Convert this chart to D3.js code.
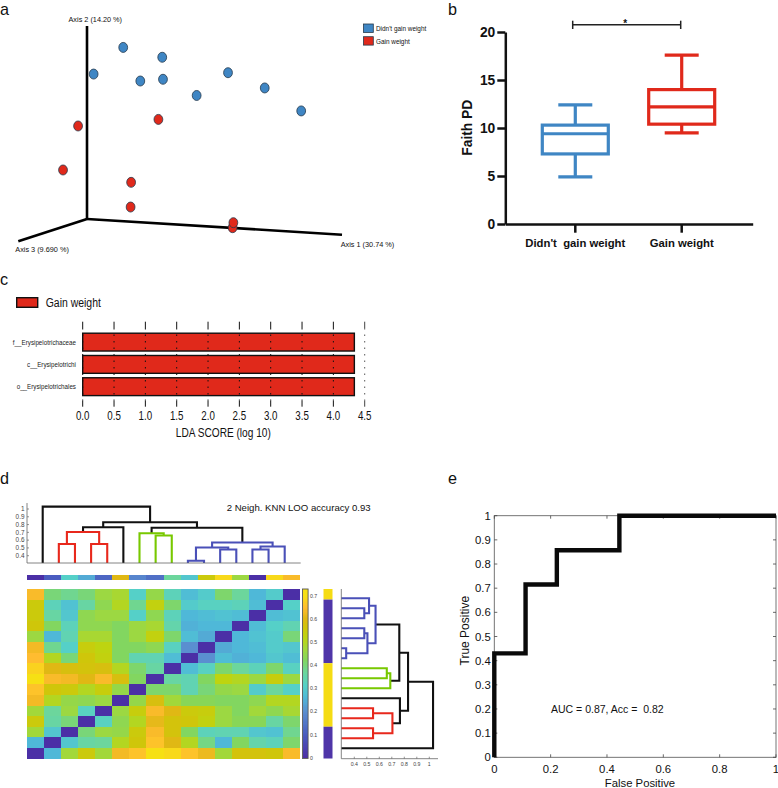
<!DOCTYPE html>
<html><head><meta charset="utf-8">
<script src="https://cdn.jsdelivr.net/npm/d3@7"></script>
<style>
html,body{margin:0;padding:0;background:#fff}
svg{display:block}
text{font-family:"Liberation Sans",Arial,sans-serif}
</style></head><body>
<svg id="c" width="778" height="788"></svg>
<script>
// ---------- data ----------
const groups = ["Didn't gain weight", "Gain weight"];
const pcoaBlueAxis1 = [.142,.295,.026,.209,.298,.553,.697,.430,.840];
const pcoaBlueAxis2 = [.889,.838,.751,.715,.724,.758,.679,.640,.560];
const pcoaRedAxis1 = [.280,-.035,-.094,.173,.171,.571,.574];
const pcoaRedAxis2 = [.516,.482,.254,.190,.062,-.045,-.019];
const boxCategories = ["Didn't  gain weight", "Gain weight"];
const boxLow = [4.9, 9.5];
const boxQ1 = [7.3, 10.4];
const boxMedian = [9.4, 12.2];
const boxQ3 = [10.3, 14.0];
const boxHigh = [12.4, 17.6];
const boxTicks = [0,5,10,15,20];
const ldaTaxa = ["f__Erysipelotrichaceae","c__Erysipelotrichi","o__Erysipelotrichales"];
const ldaScores = [4.335,4.335,4.335];
const ldaTicks = [0,.5,1,1.5,2,2.5,3,3.5,4,4.5];
const rocFalsePositive = [0,0,.111,.111,.222,.222,.444,.444,1];
const rocTruePositive = [0,.43,.43,.715,.715,.857,.857,1,1];
const rocXTicks = [0,.2,.4,.6,.8,1];
const rocYTicks = [0,.1,.2,.3,.4,.5,.6,.7,.8,.9,1];
const distanceMatrix = [
[.64,.40,.38,.40,.46,.48,.31,.45,.33,.27,.30,.41,.37,.26,.30,0],
[.55,.33,.28,.36,.44,.50,.38,.53,.41,.30,.32,.32,.33,.27,0,.31],
[.55,.36,.29,.44,.46,.46,.31,.44,.33,.26,.27,.28,.27,0,.27,.28],
[.56,.42,.33,.44,.44,.42,.46,.48,.35,.25,.26,.26,0,.27,.31,.34],
[.46,.26,.34,.48,.48,.42,.46,.53,.41,.27,.24,0,.26,.28,.30,.40],
[.63,.38,.31,.54,.52,.42,.42,.44,.32,.20,0,.24,.26,.27,.30,.29],
[.65,.50,.40,.56,.53,.42,.34,.34,.27,0,.20,.27,.25,.26,.29,.27],
[.68,.60,.58,.57,.58,.50,.41,.36,0,.27,.32,.41,.37,.33,.41,.32],
[.70,.64,.63,.60,.64,.58,.42,0,.36,.34,.42,.52,.50,.46,.54,.46],
[.66,.56,.55,.50,.54,.45,0,.41,.41,.34,.40,.45,.46,.30,.37,.31],
[.63,.50,.45,.44,.46,0,.45,.58,.47,.43,.43,.42,.42,.44,.50,.50],
[.47,.37,.46,.32,0,.46,.54,.64,.60,.55,.54,.46,.42,.47,.44,.48],
[.55,.36,.40,0,.32,.44,.50,.61,.57,.56,.53,.46,.43,.43,.36,.41],
[.47,.29,0,.40,.46,.45,.55,.64,.57,.42,.33,.34,.34,.29,.28,.38],
[.26,0,.29,.36,.37,.50,.56,.66,.60,.50,.39,.26,.42,.35,.33,.41],
[0,.26,.47,.55,.47,.63,.66,.70,.69,.66,.62,.47,.57,.57,.56,.64]];
const columnStrip = [0,.1,.31,.24,.12,.6,.18,.14,.37,.29,.55,.69,.46,0,.69,.64];
const classCounts = [1,6,6,3];
const classKinds = [1,0,1,0];
const colorStops = [0,.1,.2,.26,.31,.37,.42,.47,.52,.56,.6,.65,.7];
const colorValues = ["#4b2fa6","#4a5cc0","#5a8fd0","#4fb8d8","#55d0c8","#6cd69c","#82d660","#a2d83a","#bed410","#cfc60a","#e0b814","#ffbc30","#f6e014"];
const colorbarTicks = [0,.1,.2,.3,.4,.5,.6,.7];
const dendroYTicks = [.4,.5,.6,.7,.8,.9,1];
const dendroXTicks = [.4,.5,.6,.7,.8,.9,1];
// merge heights of the clustering, leaves numbered left to right
const clusterTree = {h:1.03,c:"k",kids:[{leaf:0},
  {h:.83,c:"k",kids:[
    {h:.765,c:"k",kids:[
      {h:.705,c:"r",kids:[{h:.55,c:"r",kids:[{leaf:1},{leaf:2}]},{h:.55,c:"r",kids:[{leaf:3},{leaf:4}]}]},
      {leaf:5}]},
    {h:.76,c:"k",kids:[
      {h:.688,c:"g",kids:[{leaf:6},{h:.66,c:"g",kids:[{leaf:7},{leaf:8}]}]},
      {h:.57,c:"b",kids:[
        {h:.505,c:"b",kids:[{h:.335,c:"b",kids:[{leaf:9},{leaf:10}]},{h:.48,c:"b",kids:[{leaf:11},{leaf:12}]}]},
        {h:.518,c:"b",kids:[{h:.48,c:"b",kids:[{leaf:13},{leaf:14}]},{leaf:15}]}]}]}]}]};

// ---------- helpers ----------
const BLUE="#3f86c4", RED="#e0291b";
const svg=d3.select("#c");
const txt=(x,y,s,size,o={})=>{
  const t=svg.append("text").attr("x",x).attr("y",y).attr("font-size",size)
  .attr("text-anchor",o.anchor||"start").attr("fill",o.fill||"#111").attr("font-weight",o.weight||null)
  .attr("font-family",o.family||null).attr("transform",o.rotate?`rotate(${o.rotate} ${x} ${y})`:null)
  .style("white-space","pre").text(s);
  if(o.squeeze) t.attr("textLength",t.node().getComputedTextLength()*o.squeeze).attr("lengthAdjust","spacingAndGlyphs");
  return t;
};
const line=(x1,y1,x2,y2,col,w,dash)=>svg.append("line").attr("x1",x1).attr("y1",y1).attr("x2",x2).attr("y2",y2)
  .attr("stroke",col).attr("stroke-width",w).attr("stroke-dasharray",dash||null);
[["a",0,14.6],["b",448,14.6],["c",0,285],["d",0,484],["e",448,484]].forEach(d=>txt(d[1],d[2],d[0],16.2));

// ---------- a: PCoA ----------
{
  const x=d3.scaleLinear([0,1],[87,342]), y=d3.scaleLinear([0,1],[219,26]);
  line(x(0),y(0),x(0),y(1),"#000",2.6);
  line(x(0),y(0),x(1),234.7,"#000",2.6);
  line(x(0),y(0),18.3,241.3,"#000",2.6);
  const pts=(xs,ys,col)=>svg.append("g").selectAll("ellipse").data(xs).join("ellipse")
    .attr("cx",d=>x(d)).attr("cy",(d,i)=>y(ys[i])).attr("rx",4.4).attr("ry",5)
    .attr("fill",col).attr("stroke","#263a4c").attr("stroke-width",.8);
  pts(pcoaBlueAxis1,pcoaBlueAxis2,BLUE);
  pts(pcoaRedAxis1,pcoaRedAxis2,RED);
  txt(68.5,22,"Axis 2 (14.20 %)",7.3);
  txt(15.3,252,"Axis 3 (9.690 %)",7.3);
  txt(340.7,247,"Axis 1 (30.74 %)",7.3);
  groups.forEach((g,i)=>{
    svg.append("rect").attr("x",363.5).attr("y",24+i*12.7).attr("width",9.8).attr("height",8.4)
      .attr("fill",i?RED:BLUE).attr("stroke","#263a4c").attr("stroke-width",.8);
    txt(376,31+i*12.7,g,6.4);
  });
}

// ---------- b: box plot ----------
{
  const y=d3.scaleLinear([0,20],[224,32]);
  const x=d3.scalePoint(boxCategories,[575.3,681.7]);
  const cols=[BLUE,RED];
  const hw=33, cap=17;
  boxCategories.forEach((c,i)=>{
    const g=svg.append("g").attr("stroke",cols[i]).attr("stroke-width",3.2).attr("fill","none");
    const cx=x(c);
    const l=(a,b,e,f)=>g.append("line").attr("x1",a).attr("y1",b).attr("x2",e).attr("y2",f);
    l(cx,y(boxLow[i]),cx,y(boxQ1[i])); l(cx,y(boxQ3[i]),cx,y(boxHigh[i]));
    l(cx-cap,y(boxLow[i]),cx+cap,y(boxLow[i])); l(cx-cap,y(boxHigh[i]),cx+cap,y(boxHigh[i]));
    g.append("rect").attr("x",cx-hw).attr("y",y(boxQ3[i])).attr("width",2*hw).attr("height",y(boxQ1[i])-y(boxQ3[i]));
    l(cx-hw,y(boxMedian[i]),cx+hw,y(boxMedian[i]));
  });
  const ax=svg.append("g").attr("transform","translate(505.3,0)").call(d3.axisLeft(y).tickValues(boxTicks).tickSize(8).tickSizeOuter(0).tickPadding(2));
  const bx=svg.append("g").attr("transform","translate(0,224)").call(d3.axisBottom(d3.scaleLinear([0,1],[505.3,752.7])).tickValues([]).tickSizeOuter(0));
  boxCategories.forEach(c=>{line(x(c),224,x(c),232.7,"#111",2.5);});
  [ax,bx].forEach(a=>{a.selectAll("path,line").attr("stroke","#111").attr("stroke-width",2.5);});
  ax.selectAll("text").attr("font-size",13.8).attr("font-weight","bold").attr("fill","#111").attr("font-family","Liberation Sans");
  boxCategories.forEach(c=>txt(x(c),246.7,c,11.3,{anchor:"middle",weight:"bold"}));
  txt(472,127.7,"Faith PD",13.8,{anchor:"middle",weight:"bold",rotate:-90});
  line(572.7,24.7,680.7,24.7,"#222",1.5); line(572.7,20.7,572.7,29,"#222",1.5); line(680.7,20.7,680.7,29,"#222",1.5);
  txt(625.3,27,"*",10,{anchor:"middle",weight:"bold"});
}

// ---------- c: LDA ----------
{
  const x=d3.scaleLinear([0,4.5],[82.7,364.7]);
  const y=d3.scaleBand(ldaTaxa,[333.2,395.6]).paddingInner(.2).paddingOuter(0);
  svg.append("rect").attr("x",16.7).attr("y",297.7).attr("width",21).attr("height",9.6).attr("fill",RED).attr("stroke","#111").attr("stroke-width",1.4);
  txt(45.7,306.7,"Gain weight",12.3,{squeeze:.85});
  svg.append("g").selectAll("rect").data(ldaTaxa).join("rect")
    .attr("x",x(0)).attr("y",d=>y(d)).attr("width",(d,i)=>x(ldaScores[i])-x(0)).attr("height",y.bandwidth())
    .attr("fill",RED).attr("stroke","#111").attr("stroke-width",1.4);
  ldaTicks.forEach(t=>{
    const thin=t===4.5;
    line(x(t),321.7,x(t),328,"#111",thin?.8:1);
    line(x(t),400.5,x(t),406.7,"#111",thin?.8:1);
    line(x(t),328,x(t),400.5,"#111",thin?.7:1,"1.5,5");
    txt(x(t),420,d3.format(".1f")(t),12.2,{anchor:"middle",squeeze:.8});
  });
  ldaTaxa.forEach(d=>txt(76,y(d)+y.bandwidth()/2+2.6,d,8,{anchor:"end",fill:"#222",squeeze:.78}));
  txt(223.3,436.7,"LDA SCORE (log 10)",12.2,{anchor:"middle",squeeze:.83});
}

// ---------- d: heat map + dendrograms ----------
{
  const color=d3.scaleLinear(colorStops,colorValues).clamp(true);
  const n=distanceMatrix.length, idx=d3.range(n);
  const cx=d3.scaleBand(idx,[27,300]), ry=d3.scaleBand(idx,[589,758.5]);
  const hm=svg.append("g").attr("shape-rendering","crispEdges");
  distanceMatrix.forEach((row,r)=>row.forEach((v,c)=>{
    hm.append("rect").attr("x",cx(c)).attr("y",ry(r)).attr("width",cx.bandwidth()+.4).attr("height",ry.bandwidth()+.4).attr("fill",color(v));
  }));
  columnStrip.forEach((v,c)=>hm.append("rect").attr("x",cx(c)).attr("y",575).attr("width",cx.bandwidth()+.4).attr("height",5.3).attr("fill",color(v)));

  // colour bar
  const cb=d3.scaleLinear([0,.7],[757.7,596]);
  d3.range(0,.73,.005).forEach(v=>hm.append("rect").attr("x",302.5).attr("y",cb(v+.005)).attr("width",5.6).attr("height",cb(v)-cb(v+.005)+.5).attr("fill",color(v)));
  svg.append("rect").attr("x",302.5).attr("y",589).attr("width",5.6).attr("height",169.5).attr("fill","none").attr("stroke","#555").attr("stroke-width",.9);
  colorbarTicks.forEach(t=>txt(310,cb(t)+1.9,String(t),5.2,{fill:"#444"}));

  // class strip
  let start=0;
  classCounts.forEach((k,i)=>{
    const y0=ry(start), y1=start+k<n?ry(start+k):758.5;
    svg.append("rect").attr("x",323.5).attr("y",y0).attr("width",9).attr("height",y1-y0).attr("fill",classKinds[i]?"#f5dc14":"#4f35a8");
    start+=k;
  });

  // dendrograms, same tree drawn along two orientations
  const palette={k:"#111",r:"#e8281c",g:"#78c800",b:"#4a50b8"};
  const root=d3.hierarchy(clusterTree,d=>d.kids);
  const leafPos=node=>{
    if(node.data.leaf!==undefined){node.p=node.data.leaf;return node.p;}
    const ps=node.children.map(leafPos);
    node.p=(ps[0]+ps[ps.length-1])/2; return node.p;
  };
  leafPos(root);
  const treeG=svg.append("g").attr("fill","none");
  const draw=(pos,val,base,horizontal)=>{
    root.descendants().filter(d=>d.children).forEach(d=>{
      const h=val(d.data.h);
      const a=d.children[0],b=d.children[1];
      const ah=a.children?val(a.data.h):base, bh=b.children?val(b.data.h):base;
      const pts=[[pos(a.p),ah],[pos(a.p),h],[pos(b.p),h],[pos(b.p),bh]];
      treeG.append("path").attr("d",d3.line().x(q=>horizontal?q[0]:q[1]).y(q=>horizontal?q[1]:q[0])(pts))
        .attr("stroke",palette[d.data.c]).attr("stroke-width",2.1);
    });
  };
  // top
  const topLeaf=d3.scaleLinear([0,15],[42.7,284.7]), topVal=d3.scaleLinear([.4,1],[555.7,509]);
  draw(topLeaf,topVal,563,true);
  line(27,503,27,563,"#666",.8); line(27,563,300.7,563,"#666",.8);
  dendroYTicks.forEach(t=>{line(27,topVal(t),29,topVal(t),"#666",.7);txt(24.5,topVal(t)+2.2,String(t),6.4,{anchor:"end",fill:"#444"});});
  txt(226.7,511.3,"2 Neigh. KNN LOO accuracy 0.93",9.6);
  // right
  const sideLeaf=d3.scaleLinear([15,0],[598.3,748.3]), sideVal=d3.scaleLinear([.4,1],[354.3,429.3]);
  draw(sideLeaf,sideVal,341.3,false);
  line(341.3,589,341.3,758.7,"#666",.8); line(341.3,758.7,438,758.7,"#666",.8);
  dendroXTicks.forEach(t=>{line(sideVal(t),758.7,sideVal(t),756.7,"#666",.7);txt(sideVal(t),766,String(t),5.2,{anchor:"middle",fill:"#444"});});
}

// ---------- e: ROC ----------
{
  const x=d3.scaleLinear([0,1],[494.3,776]), y=d3.scaleLinear([0,1],[757.3,515.7]);
  svg.append("rect").attr("x",x(0)).attr("y",y(1)).attr("width",x(1)-x(0)).attr("height",y(0)-y(1)).attr("fill","none").attr("stroke","#666").attr("stroke-width",.9);
  rocXTicks.forEach(t=>{
    line(x(t),y(0),x(t),y(0)-3,"#444",.8); line(x(t),y(1),x(t),y(1)+3,"#444",.8);
    txt(x(t),772.7,String(t),11.3,{anchor:"middle"});
  });
  rocYTicks.forEach(t=>{
    line(x(0),y(t),x(0)+3,y(t),"#444",.8); line(x(1),y(t),x(1)-3,y(t),"#444",.8);
    txt(490.7,y(t)+4,String(t),11.3,{anchor:"end"});
  });
  svg.append("path").attr("d",d3.line().x(d=>x(d)).y((d,i)=>y(rocTruePositive[i]))(rocFalsePositive))
    .attr("fill","none").attr("stroke","#0a0a0a").attr("stroke-width",4.4).attr("stroke-linejoin","miter");
  txt(640,786.7,"False Positive",11.3,{anchor:"middle"});
  txt(469.5,630.7,"True Positive",12,{anchor:"middle",rotate:-90});
  txt(551,713.3,"AUC = 0.87, Acc =  0.82",10.5,{family:"Liberation Serif"});
}
</script>
</body></html>
